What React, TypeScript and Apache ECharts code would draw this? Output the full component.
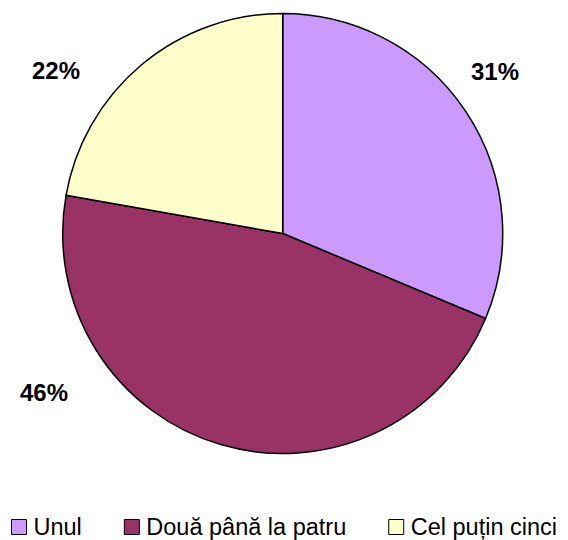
import React, { useEffect, useRef } from "react";
import * as echarts from "echarts";

const categories = ["Unul", "Două până la patru", "Cel puțin cinci"];
const values = [31, 46, 22];
const colors = ["#CC99FF", "#993366", "#FFFFCC"];
// label anchor positions (px) for the outside labels, Excel-style placement
const labelPos = [
  [495, 71],
  [44, 392],
  [56, 70],
];

const FONT = "Arial, 'Liberation Sans', sans-serif";

export default function App() {
  const ref = useRef<HTMLDivElement>(null);
  useEffect(() => {
    if (!ref.current) return;
    const chart = echarts.init(ref.current, undefined, { renderer: "svg" });
    chart.setOption({
      animation: false,
      backgroundColor: "#ffffff",
      legend: {
        left: 11,
        top: 515,
        padding: 0,
        itemWidth: 15,
        itemHeight: 15,
        itemGap: 42,
        icon: "rect",
        itemStyle: { borderColor: "#000", borderWidth: 1 },
        textStyle: {
          fontFamily: FONT,
          fontSize: 23.5,
          lineHeight: 23,
          color: "#000",
          padding: [0, 0, 0, 2],
        },
        data: categories,
      },
      series: [
        {
          type: "pie",
          center: [282.7, 233.5],
          radius: 220,
          startAngle: 90,
          clockwise: true,
          itemStyle: { borderColor: "#000", borderWidth: 1.5 },
          label: {
            show: true,
            position: "outside",
            overflow: "none",
            formatter: (p: any) => `${p.value}%`,
            fontFamily: FONT,
            fontSize: 24,
            fontWeight: "bold",
            color: "#000",
          },
          labelLine: { show: false },
          labelLayout: (params: any) => {
            const pos = labelPos[params.dataIndex];
            return { x: pos[0], y: pos[1], align: "center", verticalAlign: "middle" };
          },
          emphasis: { disabled: true },
          data: categories.map((name, i) => ({
            name,
            value: values[i],
            itemStyle: { color: colors[i] },
          })),
        },
      ],
    });
    return () => chart.dispose();
  }, []);
  return (
    <div
      ref={ref}
      style={{ position: "fixed", left: 0, top: 0, width: 568, height: 540 }}
    />
  );
}
